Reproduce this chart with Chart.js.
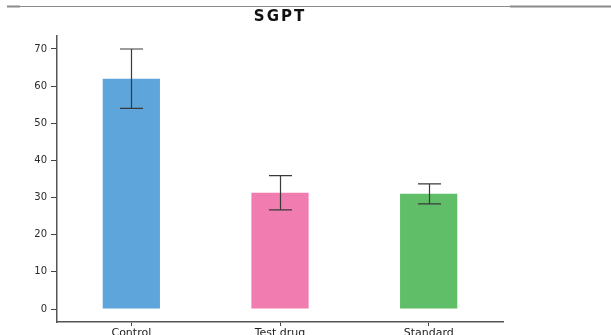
<!DOCTYPE html>
<html>
<head>
<meta charset="utf-8">
<script src="https://cdn.jsdelivr.net/npm/chart.js@4"></script>
<style>
  html, body { margin: 0; padding: 0; background: #fff; }
  #wrap { width: 611px; height: 335px; position: relative; }
</style>
</head>
<body>
<div id="wrap"><canvas id="c" width="611" height="335"></canvas></div>
<script>
// SGPT by treatment group: mean and spread
const groups = ['Control', 'Test drug', 'Standard'];
const sgptMean = [62, 31.3, 31];
const sgptErr = [8, 4.6, 2.7];
const barColors = ['#5DA5DA', '#F17CB0', '#60BD68'];
const yTicks = [0, 10, 20, 30, 40, 50, 60, 70];

// Thin rule across the top of the canvas
const topRule = {
  id: 'topRule',
  afterDraw(chart) {
    const ctx = chart.ctx;
    ctx.save();
    ctx.strokeStyle = '#8a8a8a';
    ctx.lineWidth = 1;
    ctx.beginPath(); ctx.moveTo(7, 6.5); ctx.lineTo(511, 6.5); ctx.stroke();
    ctx.lineWidth = 2;
    ctx.beginPath(); ctx.moveTo(7, 6.5); ctx.lineTo(20, 6.5); ctx.stroke();
    ctx.beginPath(); ctx.moveTo(510, 6.5); ctx.lineTo(611, 6.5); ctx.stroke();
    ctx.restore();
  }
};

// Wider letter spacing for the title and axis labels
function spaced(box, ctx, spacing) {
  if (!box || box._spacedDraw) return;
  const orig = box.draw;
  box.draw = function () {
    ctx.save();
    ctx.letterSpacing = spacing;
    orig.apply(this, arguments);
    ctx.restore();
  };
  box._spacedDraw = true;
}
const letterSpacing = {
  id: 'letterSpacing',
  afterLayout(chart) {
    spaced(chart.titleBlock, chart.ctx, '2px');
    spaced(chart.scales.x, chart.ctx, '1.5px');
    spaced(chart.scales.y, chart.ctx, '2px');
  }
};

// Error bars (mean ± err) with caps
const errorBars = {
  id: 'errorBars',
  afterDatasetsDraw(chart) {
    const ctx = chart.ctx;
    const y = chart.scales.y;
    const meta = chart.getDatasetMeta(0);
    ctx.save();
    ctx.strokeStyle = '#3a3a3a';
    ctx.lineWidth = 1.2;
    meta.data.forEach((bar, i) => {
      const cx = Math.round(bar.x) + 0.5;
      const yHi = y.getPixelForValue(sgptMean[i] + sgptErr[i]);
      const yLo = y.getPixelForValue(sgptMean[i] - sgptErr[i]);
      const half = 11.5;
      ctx.beginPath();
      ctx.moveTo(cx, yHi); ctx.lineTo(cx, yLo);
      ctx.moveTo(cx - half, yHi); ctx.lineTo(cx + half, yHi);
      ctx.moveTo(cx - half, yLo); ctx.lineTo(cx + half, yLo);
      ctx.stroke();
    });
    ctx.restore();
  }
};

new Chart(document.getElementById('c'), {
  type: 'bar',
  data: {
    labels: groups,
    datasets: [{
      data: sgptMean,
      backgroundColor: barColors,
      borderWidth: 0,
      barPercentage: 0.385,
      categoryPercentage: 1.0
    }]
  },
  options: {
    responsive: false,
    animation: false,
    devicePixelRatio: 1,
    layout: { padding: { left: 0, right: 108, top: 0, bottom: 0 } },
    plugins: {
      legend: { display: false },
      tooltip: { enabled: false },
      title: {
        display: true,
        text: 'SGPT',
        fullSize: false,
        color: '#111',
        font: { family: 'DejaVu Sans', size: 15, weight: 'bold' },
        padding: { top: 8, bottom: 10 }
      }
    },
    scales: {
      x: {
        offset: true,
        grid: {
          display: true,
          offset: false,
          drawOnChartArea: false,
          drawTicks: true,
          tickLength: 4,
          color: '#444',
          lineWidth: 1
        },
        border: { display: true, color: '#555', width: 1.5 },
        ticks: {
          color: '#222',
          padding: 1,
          font: { family: 'DejaVu Sans', size: 11 }
        },
        afterFit(scale) { scale.height = 13; }
      },
      y: {
        min: -3.5,
        max: 73.5,
        afterBuildTicks(scale) {
          scale.ticks = yTicks.map(v => ({ value: v }));
        },
        grid: {
          display: true,
          drawOnChartArea: false,
          drawTicks: true,
          tickLength: 6,
          color: '#444',
          lineWidth: 1
        },
        border: { display: true, color: '#555', width: 1.5 },
        ticks: {
          color: '#2a2a2a',
          padding: 4,
          font: { family: 'DejaVu Sans', size: 10 }
        },
        afterFit(scale) { scale.width = 57; }
      }
    }
  },
  plugins: [topRule, letterSpacing, errorBars]
});
</script>
</body>
</html>
